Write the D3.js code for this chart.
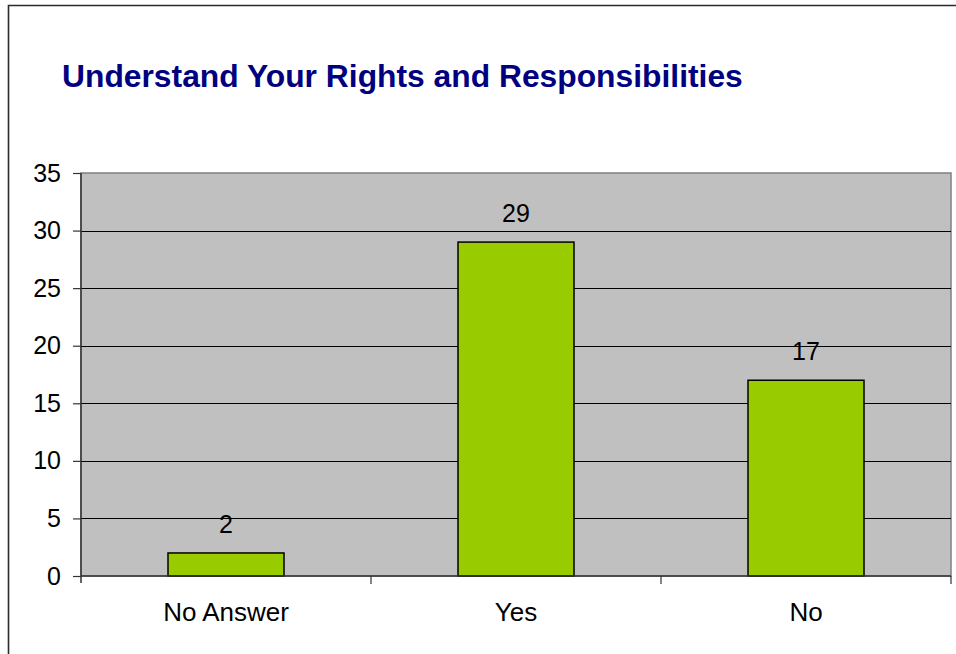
<!DOCTYPE html>
<html>
<head>
<meta charset="utf-8">
<script src="https://cdn.jsdelivr.net/npm/d3@7"></script>
<style>
  html, body { margin: 0; padding: 0; background: #fff; }
  svg { display: block; font-family: Arial, "Liberation Sans", sans-serif; }
</style>
</head>
<body>
<svg id="chart" width="956" height="654"></svg>
<script>
// Survey responses
const categories = ["No Answer", "Yes", "No"];
const counts = [2, 29, 17];
const yTicks = [0, 5, 10, 15, 20, 25, 30, 35];
const titleText = "Understand Your Rights and Responsibilities";

const svg = d3.select("#chart");
const plot = { left: 81, right: 951, top: 173, bottom: 576 };

// Outer frame (only top and left edges fall inside the canvas)
svg.append("path")
  .attr("d", "M8.5,660 V5.5 H960")
  .attr("fill", "none")
  .attr("stroke", "#2b2b2b")
  .attr("stroke-width", 1.6);

// Title
svg.append("text")
  .attr("x", 62)
  .attr("y", 87)
  .attr("fill", "#000080")
  .attr("font-weight", "bold")
  .attr("font-size", 31.8)
  .text(titleText);

const x = d3.scaleBand()
  .domain(categories)
  .range([plot.left, plot.right])
  .paddingInner(0.6)
  .paddingOuter(0.3);

const y = d3.scaleLinear()
  .domain([0, 35])
  .range([plot.bottom, plot.top]);

// Plot background
svg.append("rect")
  .attr("x", plot.left)
  .attr("y", plot.top)
  .attr("width", plot.right - plot.left)
  .attr("height", plot.bottom - plot.top)
  .attr("fill", "#c0c0c0")
  .attr("stroke", "#808080")
  .attr("stroke-width", 1.5);

// Horizontal gridlines
svg.append("g")
  .selectAll("line")
  .data(yTicks.filter(d => d > 0 && d < 35))
  .join("line")
  .attr("x1", plot.left)
  .attr("x2", plot.right)
  .attr("y1", d => Math.round(y(d)) + 0.5)
  .attr("y2", d => Math.round(y(d)) + 0.5)
  .attr("stroke", "#000")
  .attr("stroke-width", 1);

// Bars
svg.append("g")
  .selectAll("rect")
  .data(counts)
  .join("rect")
  .attr("x", (d, i) => x(categories[i]))
  .attr("y", d => y(d))
  .attr("width", x.bandwidth())
  .attr("height", d => y(0) - y(d))
  .attr("fill", "#99cc00")
  .attr("stroke", "#000")
  .attr("stroke-width", 1.5);

// Value labels
svg.append("g")
  .selectAll("text")
  .data(counts)
  .join("text")
  .attr("x", (d, i) => x(categories[i]) + x.bandwidth() / 2)
  .attr("y", d => y(d) - 20)
  .attr("text-anchor", "middle")
  .attr("font-size", 25)
  .attr("fill", "#000")
  .text(d => d);

// Y axis
const yAxis = d3.axisLeft(y)
  .tickValues(yTicks)
  .tickSize(8)
  .tickPadding(12)
  .tickFormat(d3.format("d"));
const yg = svg.append("g")
  .attr("transform", `translate(${plot.left},0)`)
  .call(yAxis);
yg.select(".domain").attr("stroke", "#333").attr("stroke-width", 1.5)
  .attr("d", `M0,${plot.top}V${plot.bottom + 7}`);
yg.selectAll(".tick line").attr("stroke", "#333").attr("stroke-width", 1.2);
yg.selectAll(".tick text").attr("font-size", 25).attr("fill", "#000")
  .attr("font-family", "Arial, 'Liberation Sans', sans-serif");

// X axis baseline
svg.append("line")
  .attr("x1", plot.left).attr("x2", plot.right)
  .attr("y1", plot.bottom).attr("y2", plot.bottom)
  .attr("stroke", "#333").attr("stroke-width", 1.5);

// Category boundary ticks (right edge of each band step)
svg.append("g")
  .selectAll("line")
  .data(categories)
  .join("line")
  .attr("x1", d => x(d) + x.bandwidth() / 2 + x.step() / 2)
  .attr("x2", d => x(d) + x.bandwidth() / 2 + x.step() / 2)
  .attr("y1", plot.bottom)
  .attr("y2", plot.bottom + 8)
  .attr("stroke", "#333")
  .attr("stroke-width", 1.2);

// Category labels
svg.append("g")
  .selectAll("text")
  .data(categories)
  .join("text")
  .attr("x", d => x(d) + x.bandwidth() / 2)
  .attr("y", 621)
  .attr("text-anchor", "middle")
  .attr("font-size", 26)
  .attr("fill", "#000")
  .text(d => d);
</script>
</body>
</html>
